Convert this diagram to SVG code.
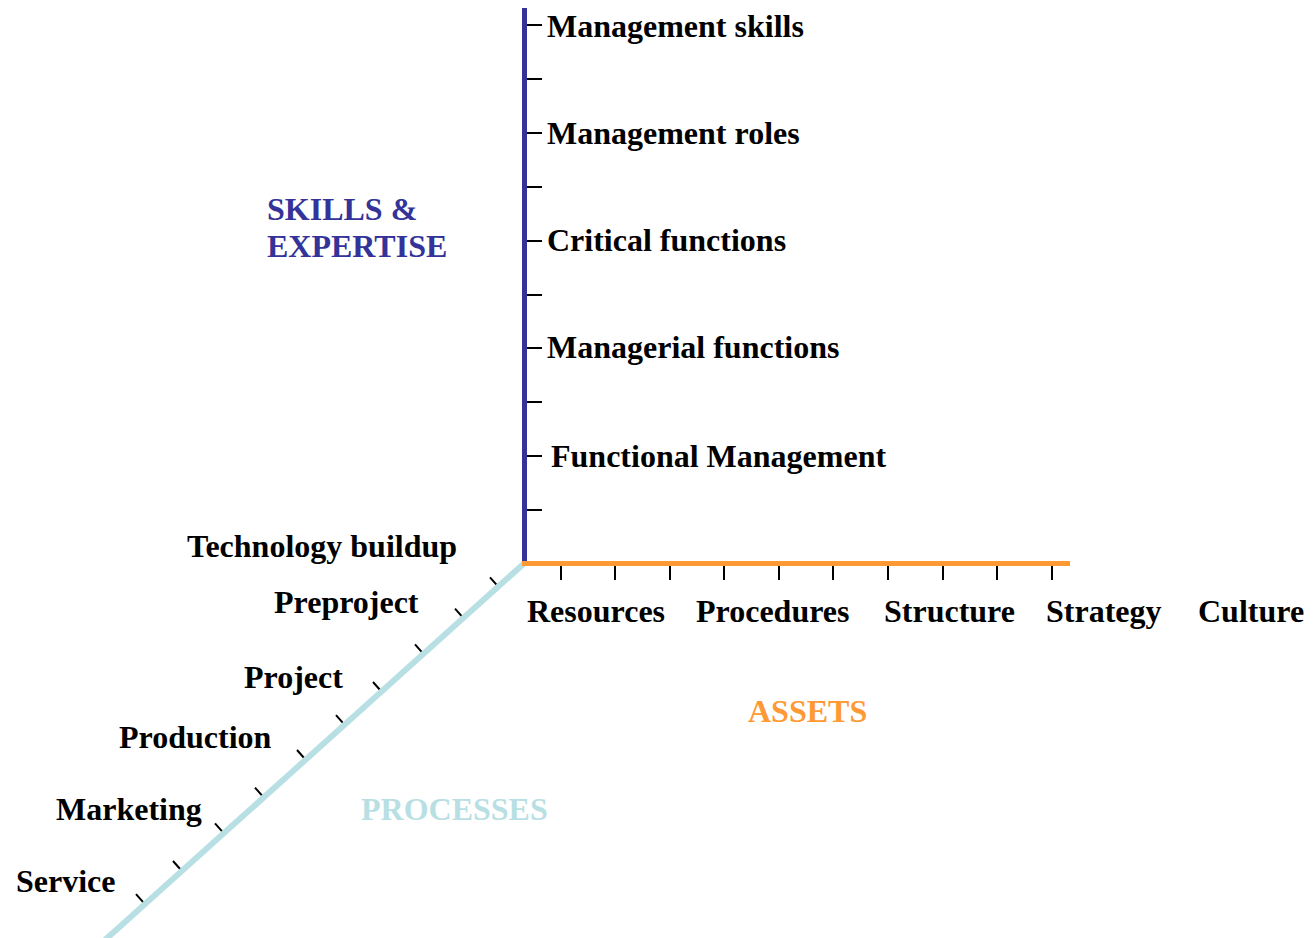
<svg xmlns="http://www.w3.org/2000/svg" width="1313" height="938" viewBox="0 0 1313 938">
<style>
.lbl{font-family:"Liberation Serif","Times New Roman",serif;font-weight:bold;font-size:32px;fill:#000}
.tk{stroke:#000;stroke-width:2;fill:none}
</style>
<rect width="1313" height="938" fill="#fff"/>
<g id="connectors">
<g id="ticks">
<path class="tk" d="M526 25H542M526 79H542M526 133H542M526 187H542M526 241H542M526 295H542M526 348H542M526 402H542M526 456H542M526 510H542"/>
<path class="tk" d="M561 566V580M615 566V580M670 566V580M724 566V580M779 566V580M833 566V580M888 566V580M943 566V580M997 566V580M1052 566V580"/>
<path class="tk" d="M498 586.3l-8 -9M463 617.6l-8 -9M423 653.4l-8 -9M381 691l-8 -9M344 724.1l-8 -9M305 759l-8 -9M263 796.6l-8 -9M223 832.4l-8 -9M181 870l-8 -9M144 903.1l-8 -9"/>
</g>
<line id="axis-processes" x1="524" y1="563.5" x2="105" y2="940" stroke="#B8E0E4" stroke-width="6"/>
<line id="axis-skills" x1="524.5" y1="8" x2="524.5" y2="563" stroke="#333399" stroke-width="5"/>
<line id="axis-assets" x1="522" y1="563.5" x2="1070" y2="563.5" stroke="#FF9933" stroke-width="5"/>
</g>
<g id="skills-title"><text class="lbl" x="267" y="220" style="fill:#333399">SKILLS &amp;</text><text class="lbl" x="267" y="257" style="fill:#333399">EXPERTISE</text></g>
<g id="assets-title"><text class="lbl" x="748" y="722" style="fill:#FF9933">ASSETS</text></g>
<g id="processes-title"><text class="lbl" x="361" y="820" style="fill:#B8E0E4">PROCESSES</text></g>
<g id="v1"><text class="lbl" x="547" y="37">Management skills</text></g>
<g id="v2"><text class="lbl" x="547" y="144">Management roles</text></g>
<g id="v3"><text class="lbl" x="547" y="251">Critical functions</text></g>
<g id="v4"><text class="lbl" x="547" y="358">Managerial functions</text></g>
<g id="v5"><text class="lbl" x="551" y="467">Functional Management</text></g>
<g id="h1"><text class="lbl" x="527" y="622">Resources</text></g>
<g id="h2"><text class="lbl" x="696" y="622">Procedures</text></g>
<g id="h3"><text class="lbl" x="884" y="622">Structure</text></g>
<g id="h4"><text class="lbl" x="1046" y="622">Strategy</text></g>
<g id="h5"><text class="lbl" x="1198" y="622">Culture</text></g>
<g id="d1"><text class="lbl" x="187" y="557">Technology buildup</text></g>
<g id="d2"><text class="lbl" x="274" y="613">Preproject</text></g>
<g id="d3"><text class="lbl" x="244" y="688">Project</text></g>
<g id="d4"><text class="lbl" x="119" y="748">Production</text></g>
<g id="d5"><text class="lbl" x="56" y="820">Marketing</text></g>
<g id="d6"><text class="lbl" x="16" y="892">Service</text></g>
</svg>
